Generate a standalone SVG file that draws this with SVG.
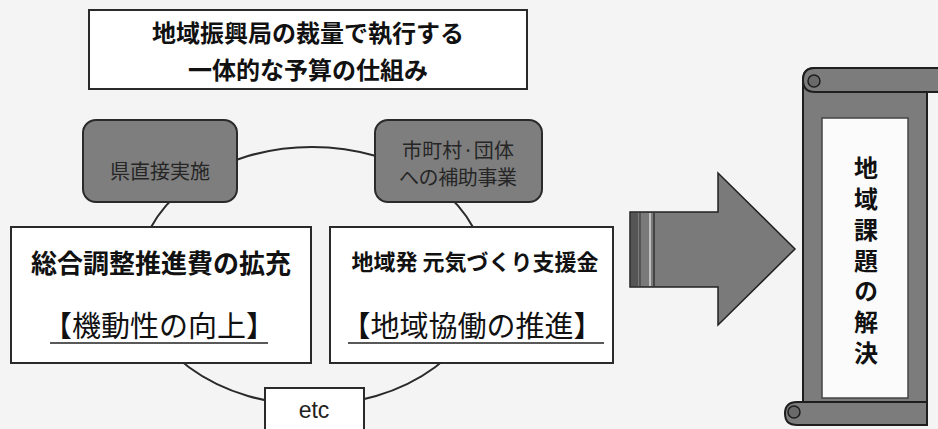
<svg xmlns="http://www.w3.org/2000/svg" width="938" height="429" viewBox="0 0 938 429">
<defs>
<style>
.jp{font-family:"Noto Sans CJK JP","Noto Sans CJK SC",sans-serif;fill:#111}
.box{fill:#ffffff;stroke:#2a2a2a;stroke-width:2}
.dark{fill:#7e7e7e;stroke:#2a2a2a;stroke-width:2}
.dtext{font-family:"Noto Sans CJK JP",sans-serif;fill:#262626;font-size:20px}
.ul{stroke:#222;stroke-width:1.5}
.conn{fill:none;stroke:#2a2a2a;stroke-width:2}
.scroll{fill:#7c7c7c;stroke:#1e1e1e;stroke-width:2}
</style>
</defs>
<rect x="0" y="0" width="938" height="429" fill="#f4f4f4"/>

<g id="connectors">
<ellipse class="conn" cx="312" cy="276" rx="174" ry="129"/>
</g>

<g id="title">
<rect class="box" x="89" y="10" width="438" height="79"/>
<text class="jp" x="308" y="42" font-size="24" font-weight="bold" text-anchor="middle">地域振興局の裁量で執行する</text>
<text class="jp" x="308" y="79" font-size="24" font-weight="bold" text-anchor="middle">一体的な予算の仕組み</text>
</g>

<g id="node-kenchokusetsu">
<rect class="dark" x="83" y="120" width="154" height="82" rx="13"/>
<text class="dtext" x="160" y="179" text-anchor="middle">県直接実施</text>
</g>

<g id="node-shichoson">
<rect class="dark" x="375" y="120" width="167" height="82" rx="13"/>
<text class="dtext" x="458" y="158" font-size="18.5" text-anchor="middle" textLength="112">市町村·団体</text>
<text class="dtext" x="458" y="185" font-size="18.5" text-anchor="middle" textLength="118">への補助事業</text>
</g>

<g id="node-sogo">
<rect class="box" x="11" y="227" width="300" height="136"/>
<text class="jp" x="161" y="273" font-size="26" font-weight="bold" text-anchor="middle">総合調整推進費の拡充</text>
<text class="jp" x="159" y="337" font-size="29" text-anchor="middle">【機動性の向上】</text>
<line class="ul" x1="50" y1="343" x2="268" y2="343"/>
</g>

<g id="node-chiikihatsu">
<rect class="box" x="330" y="227" width="283" height="136"/>
<text class="jp" x="475" y="270" font-size="22" font-weight="bold" text-anchor="middle">地域発 元気づくり支援金</text>
<text class="jp" x="472" y="337" font-size="29" text-anchor="middle">【地域協働の推進】</text>
<line class="ul" x1="348" y1="343" x2="604" y2="343"/>
</g>

<g id="node-etc">
<rect class="box" x="265" y="388" width="99" height="50"/>
<text x="314" y="418" font-family="Liberation Sans, sans-serif" font-size="23" fill="#222" text-anchor="middle">etc</text>
</g>

<g id="arrow">
<polygon points="630,212 718,212 718,173 795,249 718,325 718,287 630,287" fill="#7a7a7a" stroke="#222" stroke-width="1.5"/>
<rect x="631" y="213" width="7" height="73" fill="#555"/>
<line x1="640" y1="213" x2="640" y2="286" stroke="#4a4a4a" stroke-width="1.5"/>
<line x1="650" y1="213" x2="650" y2="286" stroke="#d8d8d8" stroke-width="1.5"/>
<line x1="654" y1="213" x2="654" y2="286" stroke="#333" stroke-width="1.5"/>
</g>

<g id="scroll">
<path class="scroll" d="M803,80 Q803,68 815,68 L927,68 L927,425 L803,425 Z"/>
<path class="scroll" d="M815,68 L945,68 L945,92 L815,92 Q803,92 803,80 Q803,68 815,68 Z"/>
<circle cx="814" cy="81" r="6" fill="#6a6a6a" stroke="#1e1e1e" stroke-width="1.5"/>
<path class="scroll" d="M797,402 L927,402 L927,425 L797,425 Q785,425 785,413.5 Q785,402 797,402 Z"/>
<circle cx="794" cy="412" r="6" fill="#6a6a6a" stroke="#1e1e1e" stroke-width="1.5"/>
<rect x="822" y="118" width="86" height="280" fill="#fbfbfb" stroke="#444" stroke-width="1.5"/>
<text class="jp" x="866" y="156" font-size="24" font-weight="bold" writing-mode="vertical-rl" letter-spacing="6.8">地域課題の解決</text>
</g>
</svg>
